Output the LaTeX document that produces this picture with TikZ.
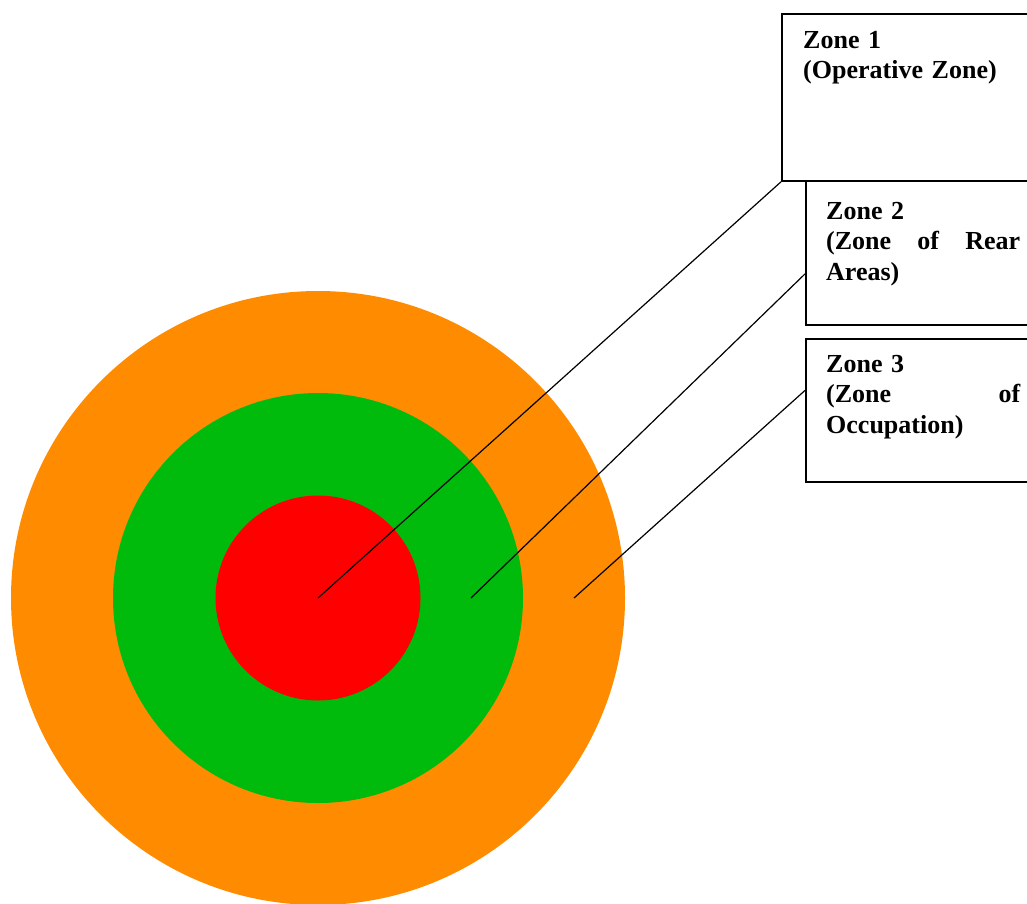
\documentclass[tikz,border=0pt]{standalone}
\usepackage{fontspec}
\setmainfont{Liberation Serif}
\definecolor{zorange}{HTML}{FF8C00}
\definecolor{zgreen}{HTML}{00BB0B}
\definecolor{zred}{HTML}{FF0000}
\begin{document}
\begin{tikzpicture}[x=1pt,y=-1pt,
  ring/.style={circle,inner sep=0pt,draw=none},
  zonebox/.style={draw=black,line width=1.8pt,fill=white,rectangle,inner sep=0pt,anchor=north west},
  zonetext/.style={anchor=base west,inner sep=0pt,text width=194pt,align=left,font=\bfseries\fontsize{26}{30.8}\selectfont},
  leader/.style={draw=black,line width=1.2pt}]
\useasboundingbox (0,0) rectangle (1027,903);
\clip (0,0) rectangle (1027,903);
% target rings
\node[ring,fill=zorange,minimum size=614pt] (outer) at (318,598) {};
\node[ring,fill=zgreen,minimum size=410pt] (middle) at (318,598) {};
\node[ring,fill=zred,minimum size=205pt] (inner) at (318,598) {};
% leader start points
\coordinate (c1) at (318,598);
\coordinate (c2) at (471,598);
\coordinate (c3) at (574,598);
% boxes
\node[zonebox,minimum width=240pt,minimum height=144pt] (z2) at (805,180) {};
\node[zonebox,minimum width=259pt,minimum height=167pt] (z1) at (781,13) {};
\node[zonebox,minimum width=240pt,minimum height=143pt] (z3) at (805,338) {};
% texts
\node[zonetext,text width=230pt] (t1) at (803,48) {Zone 1\\(Operative Zone)};
\node[zonetext] (t2) at (826,219) {Zone 2\\(Zone\hfill of\hfill Rear\\Areas)};
\node[zonetext] (t3) at (826,372) {Zone 3\\(Zone\hfill of\\Occupation)};
% leaders
\draw[leader] (c1) -- (z1.south west);
\draw[leader] (c2) -- ([yshift=-21pt]z2.west);
\draw[leader] (c3) -- ([yshift=20pt]z3.west);
\end{tikzpicture}
\end{document}
